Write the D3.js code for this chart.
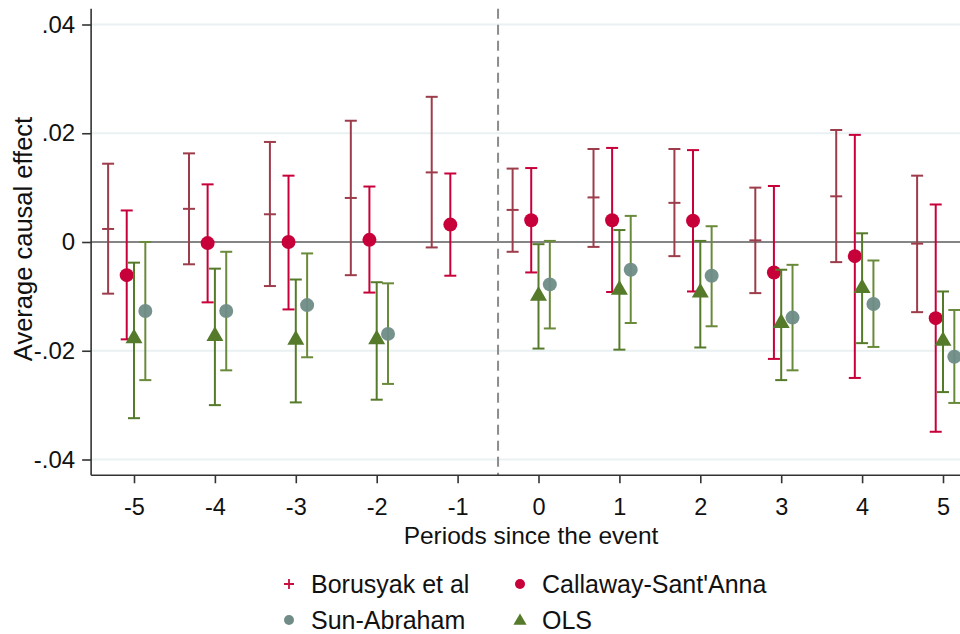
<!DOCTYPE html>
<html>
<head>
<meta charset="utf-8">
<script src="https://cdn.jsdelivr.net/npm/d3@7"></script>
<style>
  html, body { margin: 0; padding: 0; background: #fff; }
  svg { display: block; font-family: "Liberation Sans", Arial, sans-serif; }
</style>
</head>
<body>
<svg id="chart" width="960" height="634"></svg>
<script>
// Event-time periods relative to treatment
const periods = [-5, -4, -3, -2, -1, 0, 1, 2, 3, 4, 5];

// Borusyak et al (imputation estimator)
const borEst = [0.0024, 0.0061, 0.0051, 0.0081, 0.0128, 0.0059, 0.0082, 0.0072, 0.0003, 0.0084, -0.0003];
const borLo  = [-0.0095, -0.0041, -0.0081, -0.0061, -0.0010, -0.0018, -0.0009, -0.0026, -0.0094, -0.0037, -0.0129];
const borHi  = [0.0144, 0.0163, 0.0184, 0.0223, 0.0267, 0.0135, 0.0171, 0.0171, 0.0100, 0.0206, 0.0122];

// Callaway-Sant'Anna
const csEst = [-0.0061, -0.0002, 0.0000, 0.0004, 0.0032, 0.0040, 0.0040, 0.0039, -0.0056, -0.0026, -0.0140];
const csLo  = [-0.0179, -0.0111, -0.0124, -0.0093, -0.0062, -0.0056, -0.0092, -0.0091, -0.0215, -0.0250, -0.0349];
const csHi  = [0.0058, 0.0106, 0.0122, 0.0102, 0.0126, 0.0136, 0.0173, 0.0169, 0.0103, 0.0197, 0.0069];

// Sun-Abraham (no estimate in the reference period -1)
const saEst = [-0.0127, -0.0127, -0.0116, -0.0169, null, -0.0078, -0.0051, -0.0062, -0.0139, -0.0114, -0.0211];
const saLo  = [-0.0254, -0.0236, -0.0212, -0.0261, null, -0.0159, -0.0149, -0.0155, -0.0236, -0.0193, -0.0296];
const saHi  = [0.0000, -0.0018, -0.0021, -0.0076, null, 0.0002, 0.0048, 0.0029, -0.0042, -0.0034, -0.0125];

// OLS two-way fixed effects
const olsEst = [-0.0177, -0.0173, -0.0180, -0.0179, null, -0.0099, -0.0088, -0.0093, -0.0149, -0.0085, -0.0182];
const olsLo  = [-0.0324, -0.0300, -0.0295, -0.0290, null, -0.0196, -0.0198, -0.0194, -0.0254, -0.0186, -0.0276];
const olsHi  = [-0.0038, -0.0049, -0.0069, -0.0074, null, -0.0004, 0.0022, 0.0002, -0.0051, 0.0016, -0.0091];

const yTicks = [0.04, 0.02, 0, -0.02, -0.04];
const yTickLabels = [".04", ".02", "0", "-.02", "-.04"];

const legendItems = ["Borusyak et al", "Callaway-Sant'Anna", "Sun-Abraham", "OLS"];

const colors = {
  borCI: "#9d3c4a",
  borKey: "#c8103e",
  cs: "#c8003a",
  saCI: "#6a8a3b",
  saDot: "#6f8c86",
  ols: "#557a2a",
  grid: "#e9f1f3",
  zero: "#858585",
  axis: "#333333"
};

const svg = d3.select("#chart");

const x = d3.scaleLinear().domain([-5, 5]).range([134, 943]);
const y = d3.scaleLinear().domain([-0.04, 0.04]).range([459.5, 24.5]);

// plot frame limits (half a period beyond the outer ticks)
const xMin = x(-5.53), yTop = y(0.0429), yBot = y(-0.0429);

// horizontal grid
svg.append("g").selectAll("line")
  .data(yTicks.filter(d => d !== 0))
  .join("line")
  .attr("x1", xMin).attr("x2", 960)
  .attr("y1", d => y(d)).attr("y2", d => y(d))
  .attr("stroke", colors.grid).attr("stroke-width", 2);

// zero reference line
svg.append("line")
  .attr("x1", xMin).attr("x2", 960)
  .attr("y1", y(0)).attr("y2", y(0))
  .attr("stroke", colors.zero).attr("stroke-width", 2);

// treatment onset (dashed)
svg.append("line")
  .attr("x1", x(-0.5)).attr("x2", x(-0.5))
  .attr("y1", yTop).attr("y2", yBot)
  .attr("stroke", "#8c8c8c").attr("stroke-width", 2)
  .attr("stroke-dasharray", "10,6");

// y axis
const yAxis = d3.axisLeft(y).tickValues(yTicks)
  .tickFormat((d, i) => yTickLabels[i]).tickSize(9).tickPadding(7);
const gy = svg.append("g").attr("transform", `translate(${xMin},0)`).call(yAxis);
gy.select(".domain").attr("d", `M0,${yTop}V${yBot}`).attr("stroke", colors.axis).attr("stroke-width", 1.6);
gy.selectAll(".tick line").attr("stroke", colors.axis).attr("stroke-width", 1.6);
gy.selectAll(".tick text").attr("font-size", 24).attr("fill", "#111")
  .attr("font-family", "'Liberation Sans', Arial, sans-serif");

// x axis
const xAxis = d3.axisBottom(x).tickValues(periods).tickFormat(d3.format("d")).tickSize(8).tickPadding(15);
const gx = svg.append("g").attr("transform", `translate(0,${yBot})`).call(xAxis);
gx.select(".domain").attr("d", `M${xMin},0H960`).attr("stroke", colors.axis).attr("stroke-width", 1.6);
gx.selectAll(".tick line").attr("stroke", colors.axis).attr("stroke-width", 1.6);
gx.selectAll(".tick text").attr("font-size", 23.5).attr("fill", "#111")
  .attr("font-family", "'Liberation Sans', Arial, sans-serif")
  .text(d => d < 0 ? "-" + Math.abs(d) : String(d));

// axis titles
svg.append("text")
  .attr("x", 531).attr("y", 544).attr("text-anchor", "middle")
  .attr("font-size", 24.5).attr("fill", "#111")
  .text("Periods since the event");
svg.append("text")
  .attr("transform", `translate(32,239) rotate(-90)`)
  .attr("text-anchor", "middle")
  .attr("font-size", 25.5).attr("fill", "#111")
  .text("Average causal effect");

// offsets within each period (in period units)
const off = { bor: -0.32, cs: -0.09, ols: 0, sa: 0.14 };
const capHalf = 6;

function errorBars(est, lo, hi, dx, color, width) {
  const g = svg.append("g");
  const rows = periods.map((p, i) => ({ p, e: est[i], lo: lo[i], hi: hi[i] })).filter(d => d.lo !== null);
  g.selectAll("line.v").data(rows).join("line")
    .attr("x1", d => x(d.p + dx)).attr("x2", d => x(d.p + dx))
    .attr("y1", d => y(d.lo)).attr("y2", d => y(d.hi))
    .attr("stroke", color).attr("stroke-width", width);
  g.selectAll("line.lo").data(rows).join("line")
    .attr("x1", d => x(d.p + dx) - capHalf).attr("x2", d => x(d.p + dx) + capHalf)
    .attr("y1", d => y(d.lo)).attr("y2", d => y(d.lo))
    .attr("stroke", color).attr("stroke-width", width);
  g.selectAll("line.hi").data(rows).join("line")
    .attr("x1", d => x(d.p + dx) - capHalf).attr("x2", d => x(d.p + dx) + capHalf)
    .attr("y1", d => y(d.hi)).attr("y2", d => y(d.hi))
    .attr("stroke", color).attr("stroke-width", width);
  return rows;
}

// Borusyak: interval with a plus marker at the estimate
const borRows = errorBars(borEst, borLo, borHi, off.bor, colors.borCI, 2);
svg.append("g").selectAll("line").data(borRows).join("line")
  .attr("x1", d => x(d.p + off.bor) - 6).attr("x2", d => x(d.p + off.bor) + 6)
  .attr("y1", d => y(d.e)).attr("y2", d => y(d.e))
  .attr("stroke", colors.borCI).attr("stroke-width", 2);

// Callaway-Sant'Anna
const csRows = errorBars(csEst, csLo, csHi, off.cs, colors.cs, 2);
svg.append("g").selectAll("circle").data(csRows).join("circle")
  .attr("cx", d => x(d.p + off.cs)).attr("cy", d => y(d.e)).attr("r", 7)
  .attr("fill", colors.cs);

// OLS
const olsRows = errorBars(olsEst, olsLo, olsHi, off.ols, colors.ols, 2);
const tri = d3.symbol().type(d3.symbolTriangle).size(125);
svg.append("g").selectAll("path").data(olsRows).join("path")
  .attr("transform", d => `translate(${x(d.p + off.ols)},${y(d.e)})`)
  .attr("d", tri).attr("fill", colors.ols);

// Sun-Abraham
const saRows = errorBars(saEst, saLo, saHi, off.sa, colors.saCI, 2);
svg.append("g").selectAll("circle").data(saRows).join("circle")
  .attr("cx", d => x(d.p + off.sa)).attr("cy", d => y(d.e)).attr("r", 7)
  .attr("fill", colors.saDot).attr("fill-opacity", 0.95);

// legend
const lg = svg.append("g");
const legPos = [[289, 584], [520, 584], [289, 620], [520, 620]];
legendItems.forEach((name, i) => {
  const [lx, ly] = legPos[i];
  if (i === 0) {
    lg.append("path").attr("d", `M${lx - 5},${ly}H${lx + 5}M${lx},${ly - 5}V${ly + 5}`)
      .attr("stroke", colors.borKey).attr("stroke-width", 1.8);
  } else if (i === 1) {
    lg.append("circle").attr("cx", lx).attr("cy", ly).attr("r", 5).attr("fill", colors.cs);
  } else if (i === 2) {
    lg.append("circle").attr("cx", lx).attr("cy", ly).attr("r", 5).attr("fill", colors.saDot);
  } else {
    lg.append("path").attr("transform", `translate(${lx},${ly + 1})`)
      .attr("d", d3.symbol().type(d3.symbolTriangle).size(75)).attr("fill", colors.ols);
  }
  lg.append("text").attr("x", lx + 22).attr("y", ly + 9)
    .attr("font-size", 25).attr("fill", "#111").text(name);
});
</script>
</body>
</html>
